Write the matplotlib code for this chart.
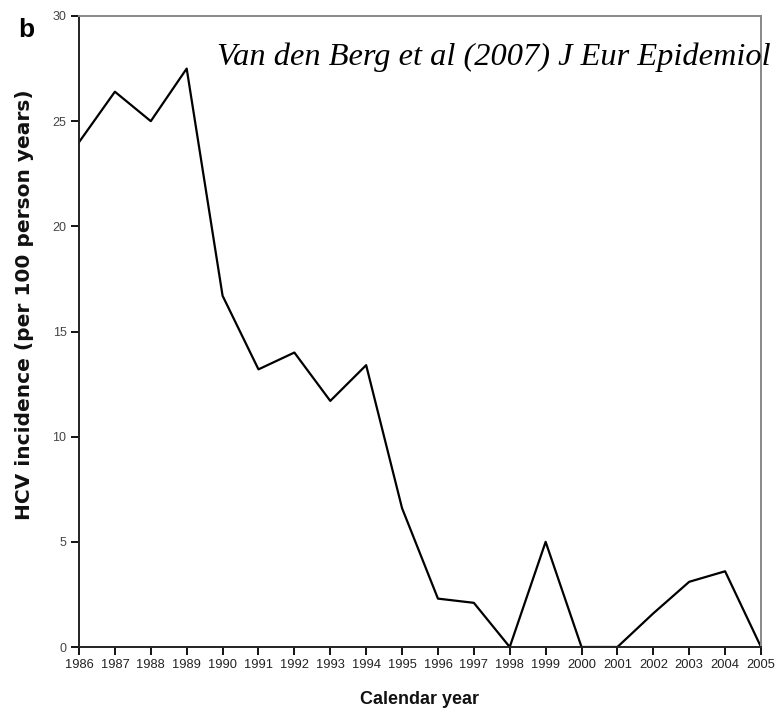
import matplotlib
matplotlib.use('Agg')
import matplotlib.pyplot as plt

# HCV incidence per calendar year
years = list(range(1986, 2006))
incidence = [24.0, 26.4, 25.0, 27.5, 16.7, 13.2, 14.0, 11.7, 13.4, 6.6,
             2.3, 2.1, 0.0, 5.0, 0.0, 0.0, 1.6, 3.1, 3.6, 0.0]
yticks = [0, 5, 10, 15, 20, 25, 30]

plt.rcParams['font.family'] = ['Liberation Sans', 'DejaVu Sans']

fig = plt.figure(figsize=(7.76, 7.12), dpi=100)
ax = fig.add_axes([79 / 776, 1 - 647 / 712, (761 - 79) / 776, (647 - 16) / 712])

ax.plot(years, incidence, color='black', linewidth=1.6)

ax.set_xlim(1986, 2005)
ax.set_ylim(0, 30)
ax.set_xticks(years)
ax.set_xticklabels([str(y) for y in years], fontsize=9.3, color='#222222')
ax.set_yticks(yticks)
ax.set_yticklabels([str(t) for t in yticks], fontsize=9, color='#444444')
ax.tick_params(direction='out', length=6, width=1.3, pad=3)

for side in ['left', 'bottom']:
    ax.spines[side].set_linewidth(1.4)
    ax.spines[side].set_color('#222222')
for side in ['top', 'right']:
    ax.spines[side].set_linewidth(1.4)
    ax.spines[side].set_color('#888888')

ax.set_xlabel('Calendar year', fontsize=13, fontweight='bold', labelpad=14,
              color='#111111')
ax.set_ylabel('HCV incidence (per 100 person years)', fontsize=14.5, fontweight='bold',
              color='#111111', family=['DejaVu Sans'])
ax.yaxis.set_label_coords(-0.066, 0.542)

fig.text(18 / 776, 1 - 37 / 712, 'b', fontsize=19, fontweight='bold')
fig.text(217 / 776, 1 - 65 / 712, 'Van den Berg et al (2007) J Eur Epidemiol',
         fontsize=23.3, style='italic', family=['Liberation Serif', 'DejaVu Serif'])

plt.savefig('out.png', dpi=100)
